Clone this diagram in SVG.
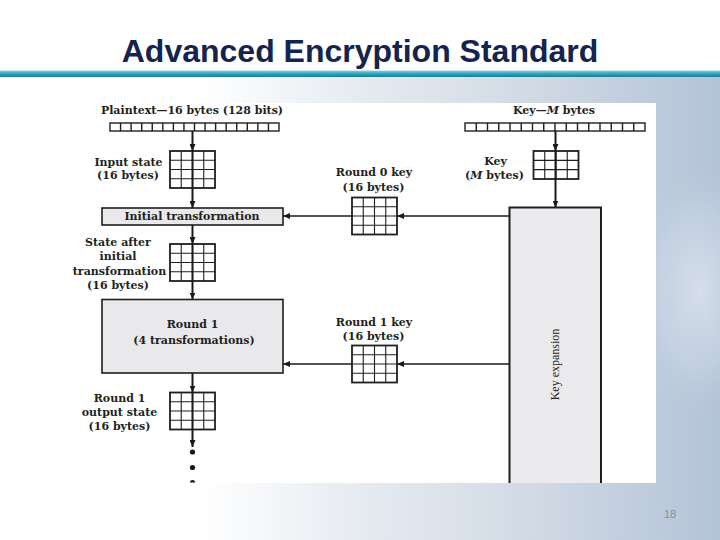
<svg xmlns="http://www.w3.org/2000/svg" xmlns:xlink="http://www.w3.org/1999/xlink" width="720" height="540" viewBox="0 0 720 540">
<style>
.lb{font-family:"DejaVu Serif","Liberation Serif",serif;font-weight:bold;font-size:11px;fill:#231f20;text-anchor:middle}
.box{fill:#e9e9ec;stroke:#1e1e1e;stroke-width:1.6}
.cell{fill:none;stroke:#1e1e1e;stroke-width:1.1}
.outer{fill:#fff;stroke:#1e1e1e;stroke-width:1.8}
.row{fill:#fff;stroke:#1e1e1e;stroke-width:1.4}
.v{fill:none;stroke:#1a1a1a;stroke-width:2;marker-end:url(#ah)}
.h{fill:none;stroke:#1a1a1a;stroke-width:1.3;marker-end:url(#ah)}
</style>
<defs>
<linearGradient id="bg" x1="0" y1="0" x2="1" y2="0">
<stop offset="0" stop-color="#ffffff"/>
<stop offset="0.28" stop-color="#ffffff"/>
<stop offset="0.5" stop-color="#e6ebf1"/>
<stop offset="0.75" stop-color="#d0d9e4"/>
<stop offset="1" stop-color="#b3c3d7"/>
</linearGradient>
<radialGradient id="tun" cx="0.5" cy="0.5" r="0.5">
<stop offset="0" stop-color="#e3eaf2" stop-opacity="0.7"/>
<stop offset="0.6" stop-color="#d6e0eb" stop-opacity="0.35"/>
<stop offset="1" stop-color="#b7c7da" stop-opacity="0"/>
</radialGradient>
<linearGradient id="tl" x1="0" y1="0" x2="0" y2="1">
<stop offset="0" stop-color="#8fd4de"/>
<stop offset="0.5" stop-color="#2ea3b9"/>
<stop offset="1" stop-color="#1a7f98"/>
</linearGradient>
<marker id="ah" viewBox="0 0 7 6" refX="7" refY="3" markerWidth="7" markerHeight="6" markerUnits="userSpaceOnUse" orient="auto">
<path d="M0,0 L7,3 L0,6 z" fill="#1a1a1a"/>
</marker>
<g id="g44">
<rect class="outer" x="0" y="0" width="45" height="37"/>
<path class="cell" d="M11.25,0V37M22.5,0V37M33.75,0V37M0,9.25H45M0,18.5H45M0,27.75H45"/>
</g>
<g id="g43">
<rect class="outer" x="0" y="0" width="45" height="28"/>
<path class="cell" d="M11.25,0V28M22.5,0V28M33.75,0V28M0,9.33H45M0,18.67H45"/>
</g>
</defs>

<!-- background -->
<rect x="0" y="0" width="720" height="540" fill="#ffffff"/>
<rect x="0" y="77" width="720" height="463" fill="url(#bg)"/>
<ellipse cx="700" cy="290" rx="70" ry="130" fill="url(#tun)"/>
<rect x="0" y="70.5" width="720" height="6.5" fill="url(#tl)"/>
<text x="360" y="62" font-family="Liberation Sans, Arial, sans-serif" font-weight="bold" font-size="32" fill="#14244f" text-anchor="middle">Advanced Encryption Standard</text>
<text x="670" y="518" font-family="Liberation Sans, Arial, sans-serif" font-size="11" fill="#858e98" text-anchor="middle">18</text>

<!-- diagram panel -->
<rect x="62" y="103" width="594" height="380" fill="#ffffff"/>

<g id="plaintext">
<text class="lb" x="192" y="113.5">Plaintext—16 bytes (128 bits)</text>
<rect class="row" x="110" y="123" width="169" height="8"/>
<path class="row" d="M120.56,123V131M131.13,123V131M141.69,123V131M152.25,123V131M162.81,123V131M173.38,123V131M183.94,123V131M194.5,123V131M205.06,123V131M215.63,123V131M226.19,123V131M236.75,123V131M247.31,123V131M257.88,123V131M268.44,123V131"/>
</g>

<g id="key-bytes">
<text class="lb" x="554" y="113.5">Key—<tspan font-style="italic">M</tspan> bytes</text>
<rect class="row" x="465" y="123" width="180" height="8"/>
<path class="row" d="M476.25,123V131M487.5,123V131M498.75,123V131M510,123V131M521.25,123V131M532.5,123V131M543.75,123V131M555,123V131M566.25,123V131M577.5,123V131M588.75,123V131M600,123V131M611.25,123V131M622.5,123V131M633.75,123V131"/>
</g>

<g id="input-state">
<text class="lb" x="128.5" y="165.5">Input state</text>
<text class="lb" x="128" y="179">(16 bytes)</text>
<use xlink:href="#g44" x="170" y="151"/>
</g>

<g id="key-state">
<text class="lb" x="495.5" y="165">Key</text>
<text class="lb" x="494.5" y="179">(<tspan font-style="italic">M</tspan> bytes)</text>
<use xlink:href="#g43" x="533.5" y="151"/>
</g>

<g id="round0-key">
<text class="lb" x="374" y="176">Round 0 key</text>
<text class="lb" x="373.5" y="190.5">(16 bytes)</text>
<use xlink:href="#g44" x="352" y="197.5"/>
</g>

<g id="initial-transformation">
<rect class="box" x="102" y="208" width="181" height="17"/>
<text class="lb" x="192" y="220">Initial transformation</text>
</g>

<g id="key-expansion">
<rect x="509.5" y="207.5" width="91.5" height="275.5" fill="#ebebee"/>
<path d="M509.5,483V207.5H601V483" fill="none" stroke="#1e1e1e" stroke-width="2"/>
<text transform="translate(559,364.5) rotate(-90)" x="0" y="0" font-family="Liberation Serif, Times New Roman, serif" font-size="12" fill="#231f20" text-anchor="middle">Key expansion</text>
</g>

<g id="state-after-initial">
<text class="lb" x="118" y="245.5">State after</text>
<text class="lb" x="118" y="260">initial</text>
<text class="lb" x="119.5" y="274.5">transformation</text>
<text class="lb" x="118" y="289">(16 bytes)</text>
<use xlink:href="#g44" x="170" y="244"/>
</g>

<g id="round1">
<rect class="box" x="102" y="299.5" width="181" height="73.5"/>
<text class="lb" x="192.5" y="327.5">Round 1</text>
<text class="lb" x="194" y="343.5">(4 transformations)</text>
</g>

<g id="round1-key">
<text class="lb" x="374" y="326">Round 1 key</text>
<text class="lb" x="373.5" y="339.5">(16 bytes)</text>
<use xlink:href="#g44" x="352" y="345.5"/>
</g>

<g id="round1-output">
<text class="lb" x="119.5" y="401.5">Round 1</text>
<text class="lb" x="119.5" y="416">output state</text>
<text class="lb" x="119.5" y="430">(16 bytes)</text>
<use xlink:href="#g44" x="170" y="392.5"/>
</g>

<g id="continuation">
<circle cx="192.5" cy="452" r="2.6" fill="#1a1a1a"/>
<circle cx="192.5" cy="467.5" r="2.6" fill="#1a1a1a"/>
<path d="M189.9,482.6a2.6,2.6 0 0 1 5.2,0z" fill="#1a1a1a"/>
</g>

<g id="connectors">
<path class="v" d="M192.5,131V151"/>
<path class="v" d="M192.5,151V208"/>
<path class="v" d="M192.5,225V244"/>
<path class="v" d="M192.5,244V299.5"/>
<path class="v" d="M192.5,373V392.5"/>
<path class="v" d="M192.5,392.5V447"/>
<path class="v" d="M555.5,131V151"/>
<path class="v" d="M555.5,151V207.5"/>
<path class="h" d="M509.5,216H397"/>
<path class="h" d="M352,216H283"/>
<path class="h" d="M509.5,364H397"/>
<path class="h" d="M352,364H283"/>
</g>
</svg>
